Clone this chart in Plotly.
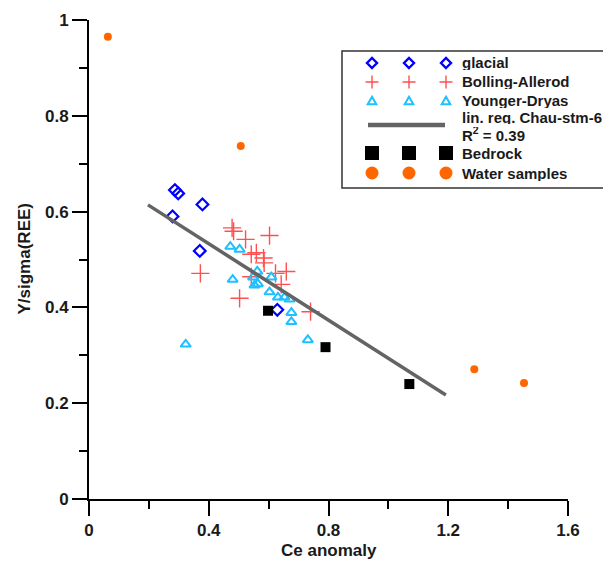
import plotly.graph_objects as go

# ---- data ----
glacial_x = [0.287, 0.298, 0.379, 0.279, 0.370, 0.629]
glacial_y = [0.645, 0.638, 0.615, 0.590, 0.518, 0.395]

ba_x = [0.478, 0.483, 0.523, 0.603, 0.542, 0.559, 0.583, 0.585, 0.623, 0.659,
        0.372, 0.542, 0.642, 0.503, 0.740]
ba_y = [0.566, 0.559, 0.542, 0.550, 0.511, 0.514, 0.503, 0.493, 0.471, 0.475,
        0.471, 0.464, 0.448, 0.419, 0.391]

yd_x = [0.472, 0.503, 0.480, 0.562, 0.548, 0.564, 0.553, 0.609, 0.603, 0.631,
        0.653, 0.670, 0.676, 0.676, 0.323, 0.731]
yd_y = [0.527, 0.521, 0.458, 0.475, 0.463, 0.449, 0.446, 0.463, 0.432, 0.421,
        0.421, 0.417, 0.389, 0.370, 0.323, 0.332]

reg_x = [0.197, 1.192]
reg_y = [0.614, 0.217]

bed_x = [0.598, 0.790, 1.070]
bed_y = [0.393, 0.317, 0.240]

water_x = [0.063, 0.507, 1.287, 1.453]
water_y = [0.965, 0.737, 0.271, 0.242]

series_names = ["glacial", "Bolling-Allerod", "Younger-Dryas",
                "lin. reg. Chau-stm-6<br>R<sup>2</sup> = 0,39",
                "Bedrock", "Water samples"]

x_ticks = [0, 0.4, 0.8, 1.2, 1.6]
x_ticklabels = ["0", "0.4", "0.8", "1.2", "1.6"]
y_ticks = [0, 0.2, 0.4, 0.6, 0.8, 1]
y_ticklabels = ["0", "0.2", "0.4", "0.6", "0.8", "1"]

x_title = "Ce anomaly"
y_title = "Y/sigma(REE)"

# ---- style ----
FONT = "Liberation Sans, Arial, sans-serif"
TXT = "#1a1a1a"
C_GLAC = "#0000ff"
C_BA = "#ff5050"
C_YD = "#1ec0ff"
C_REG = "#646464"
C_BED = "#000000"
C_WAT = "#ff6600"

W, H = 603, 555
ML, MR, MT, MB = 81, 43, 12, 64
PW, PH = W - ML - MR, H - MT - MB
OFF = 8  # page body margin


def px2x(px):
    return (px - OFF - ML) / PW


def py2y(py):
    return 1 - (py - OFF - MT) / PH


fig = go.Figure()
fig.add_trace(go.Scatter(
    x=glacial_x, y=glacial_y, mode="markers", name=series_names[0],
    marker=dict(symbol="diamond-open", size=9, color=C_GLAC,
                line=dict(width=2.2, color=C_GLAC))))
fig.add_trace(go.Scatter(
    x=ba_x, y=ba_y, mode="markers", name=series_names[1],
    marker=dict(symbol="cross-thin-open", size=13, color=C_BA,
                line=dict(width=1.4, color=C_BA))))
fig.add_trace(go.Scatter(
    x=yd_x, y=yd_y, mode="markers", name=series_names[2],
    marker=dict(symbol="triangle-up-open", size=9, color=C_YD,
                line=dict(width=2, color=C_YD))))
fig.add_trace(go.Scatter(
    x=reg_x, y=reg_y, mode="lines", name=series_names[3],
    line=dict(color=C_REG, width=3.5)))
fig.add_trace(go.Scatter(
    x=bed_x, y=bed_y, mode="markers", name=series_names[4],
    marker=dict(symbol="square", size=10, color=C_BED)))
fig.add_trace(go.Scatter(
    x=water_x, y=water_y, mode="markers", name=series_names[5],
    marker=dict(symbol="circle", size=8, color=C_WAT)))

axis_common = dict(
    showline=True, linecolor="#000000", linewidth=2,
    ticks="outside", ticklen=15, tickwidth=2, tickcolor="#000000",
    showgrid=False, zeroline=False, mirror=False, automargin=False,
    tickfont=dict(family=FONT, size=17, color=TXT, weight="bold"),
)
minor_common = dict(ticks="outside", ticklen=8, tickwidth=2, tickcolor="#000000")

fig.update_xaxes(range=[0, 1.6], tickvals=x_ticks, ticktext=x_ticklabels,
                 minor=dict(dtick=0.2, tick0=0, **minor_common), **axis_common)
fig.update_yaxes(range=[0, 1], tickvals=y_ticks, ticktext=y_ticklabels,
                 minor=dict(dtick=0.1, tick0=0, **minor_common), **axis_common)

# ---- axis titles ----
annotations = [
    dict(text=f"<b>{x_title}</b>", xref="paper", yref="paper",
         x=0.5, y=py2y(550), xanchor="center", yanchor="middle", showarrow=False,
         font=dict(family=FONT, size=17, color=TXT)),
    dict(text=f"<b>{y_title}</b>", xref="paper", yref="paper",
         x=px2x(24), y=0.5, xanchor="center", yanchor="middle", showarrow=False,
         textangle=-90, font=dict(family=FONT, size=17, color=TXT)),
]

# ---- custom legend (Origin style, three symbols per entry) ----
shapes = [dict(type="rect", xref="paper", yref="paper",
               x0=px2x(342), x1=px2x(606), y0=py2y(188), y1=py2y(51),
               line=dict(color="#333333", width=1.5), fillcolor="white", layer="above")]

row_y = [63, 82, 101, 125, 153, 173]
sym_x = [372, 409, 446]
text_x = 460


def sym(kind, px, py):
    base = dict(xref="paper", yref="paper", xsizemode="pixel", ysizemode="pixel",
                xanchor=px2x(px), yanchor=py2y(py), layer="above")
    if kind == "diamond":
        return dict(type="path", path="M0,-5 L5,0 L0,5 L-5,0 Z",
                    line=dict(color=C_GLAC, width=2.4), **base)
    if kind == "cross":
        return dict(type="path", path="M-6.5,0 L6.5,0 M0,-6.5 L0,6.5",
                    line=dict(color=C_BA, width=1.4), **base)
    if kind == "triangle":
        return dict(type="path", path="M-4.3,-3.3 L4.3,-3.3 L0,4.2 Z",
                    line=dict(color=C_YD, width=2), **base)
    if kind == "square":
        return dict(type="rect", x0=-7, x1=7, y0=-7, y1=7,
                    line=dict(width=0), fillcolor=C_BED, **base)
    if kind == "circle":
        return dict(type="circle", x0=-6.5, x1=6.5, y0=-6.5, y1=6.5,
                    line=dict(width=0), fillcolor=C_WAT, **base)


def legend_text(text, py, h=15):
    return dict(text=f"<b>{text}</b>", xref="paper", yref="paper",
                x=px2x(text_x), y=py2y(py), xanchor="left", yanchor="middle",
                align="left", showarrow=False, height=h,
                font=dict(family=FONT, size=15, color=TXT))


kinds = ["diamond", "cross", "triangle", None, "square", "circle"]
for i, k in enumerate(kinds):
    if k is None:
        shapes.append(dict(type="line", xref="paper", yref="paper",
                           x0=px2x(368), x1=px2x(445), y0=py2y(row_y[i]), y1=py2y(row_y[i]),
                           line=dict(color=C_REG, width=4.5), layer="above"))
        lines = series_names[i].split("<br>")
        annotations.append(legend_text(lines[0], 117, 14))
        annotations.append(legend_text(lines[1], 134, 14))
    else:
        for sx in sym_x:
            shapes.append(sym(k, sx, row_y[i]))
        annotations.append(legend_text(series_names[i], row_y[i]))

fig.update_layout(
    width=W, height=H,
    margin=dict(l=ML, r=MR, t=MT, b=MB),
    plot_bgcolor="white", paper_bgcolor="white",
    font=dict(family=FONT, size=15, color=TXT),
    showlegend=False,
    shapes=shapes,
    annotations=annotations,
)

fig.write_html("out.html")
